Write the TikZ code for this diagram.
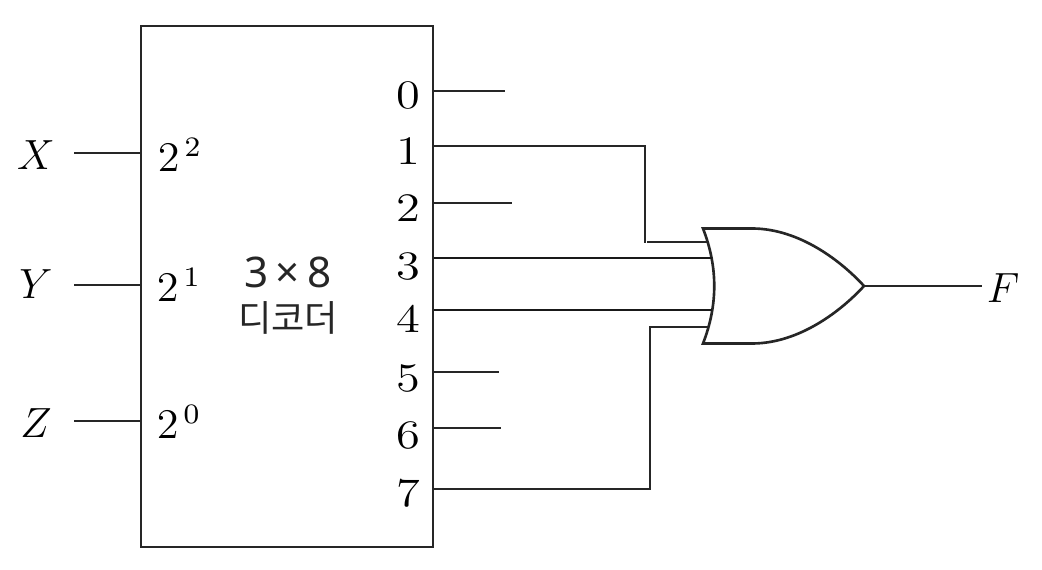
\documentclass[tikz,border=0pt]{standalone}
\usepackage{fontspec}
\newfontfamily\krfont{Noto Sans CJK KR}
\newfontfamily\lblfont{Noto Sans}
\usetikzlibrary{calc}
\tikzset{
	wire/.style={line width=0.55pt, color=black!85},
	wirethick/.style={line width=0.75pt, color=black!90},
	pinlabel/.style={font=\fontsize{11.5}{14}\selectfont, inner sep=0pt, xscale=1.2, transform shape},
	powlabel/.style={font=\fontsize{11.5}{14}\selectfont, inner sep=0pt, xscale=1.05, transform shape},
	varlabel/.style={font=\fontsize{11.5}{14}\selectfont\itshape, inner sep=0pt}
}

\begin{document}
\begin{tikzpicture}[x=0.01cm, y=-0.01cm]
		%%%%% FRAME %%%%%
		\useasboundingbox (0, 0) rectangle (1042, 570);
		
		\node[draw, wire, minimum width=2.92cm, minimum height=5.21cm, inner sep=0pt] (decoder) at (287, 286.5) {};
		\node[inner sep=0pt, color=black!85, font=\lblfont\fontsize{12}{14}\selectfont] (size) at (288, 272) {3\,×\,8};
		\node[inner sep=0pt, color=black!85, font=\krfont\fontsize{10.3}{12}\selectfont] (name) at (288, 318) {디코더};
		
		%%%%% INPUTS %%%%%
		\node[varlabel] (x) at (36, 155) {$X$};
		\node[varlabel] (y) at (36, 284) {$Y$};
		\node[varlabel] (z) at (36, 423) {$Z$};
		\node[powlabel] (in2) at (180, 155) {$2^{\,2}$};
		\node[powlabel] (in1) at (179, 285) {$2^{\,1}$};
		\node[powlabel] (in0) at (179, 422) {$2^{\,0}$};
		\coordinate (xs) at (74, 153);
		\coordinate (ys) at (74, 285);
		\coordinate (zs) at (74, 421);
		\draw[wire] (xs) -- (xs -| decoder.west);
		\draw[wire] (ys) -- (ys -| decoder.west);
		\draw[wire] (zs) -- (zs -| decoder.west);
		
		%%%%% OUTPUTS %%%%%
		\node[pinlabel] (out0) at (408, 95) {0};
		\node[pinlabel] (out1) at (408, 151) {1};
		\node[pinlabel] (out2) at (408, 208) {2};
		\node[pinlabel] (out3) at (408, 266) {3};
		\node[pinlabel] (out4) at (408, 319) {4};
		\node[pinlabel] (out5) at (408, 378) {5};
		\node[pinlabel] (out6) at (408, 435) {6};
		\node[pinlabel] (out7) at (408, 493) {7};
		\coordinate (end0) at (505, 91);
		\coordinate (end2) at (512, 203);
		\coordinate (end5) at (499, 372);
		\coordinate (end6) at (501, 428);
		\draw[wire] (end0 -| decoder.east) -- (end0);
		\draw[wire] (end2 -| decoder.east) -- (end2);
		\draw[wire] (end5 -| decoder.east) -- (end5);
		\draw[wire] (end6 -| decoder.east) -- (end6);
		
		%%%%% GATE %%%%%
		\coordinate (gatetop) at (703, 228.5);
		\coordinate (gatebot) at (703, 343.5);
		\coordinate (gatetip) at (864, 286);
		\coordinate (ga) at (708, 242);
		\coordinate (gb) at (712, 258);
		\coordinate (gc) at (712, 310);
		\coordinate (gd) at (708, 327);
		\coordinate (f) at (982, 286);
		\draw[wire, line width=0.75pt, line join=miter] (gatetop) -- (752, 228.5) .. controls (800, 228.5) and (842, 262) .. (gatetip) .. controls (842, 310) and (800, 343.5) .. (752, 343.5) -- (gatebot) .. controls (718, 305) and (718, 267) .. (gatetop) -- cycle;
		
		%%%%% CONNECTORS %%%%%
		\draw[wire] (decoder.east |- 0, 146) -- (645, 146) -- (645, 243);
		\draw[wire] (647, 242) -- (ga);
		\draw[wirethick] (decoder.east |- gb) -- (gb);
		\draw[wirethick] (decoder.east |- gc) -- (gc);
		\draw[wire] (decoder.east |- 0, 489) -- (650, 489) -- (650, 327) -- (gd);
		\draw[wire] (gatetip) -- (f);
		\node[varlabel] (fout) at (1003, 288) {$F$};
	\end{tikzpicture}
\end{document}
